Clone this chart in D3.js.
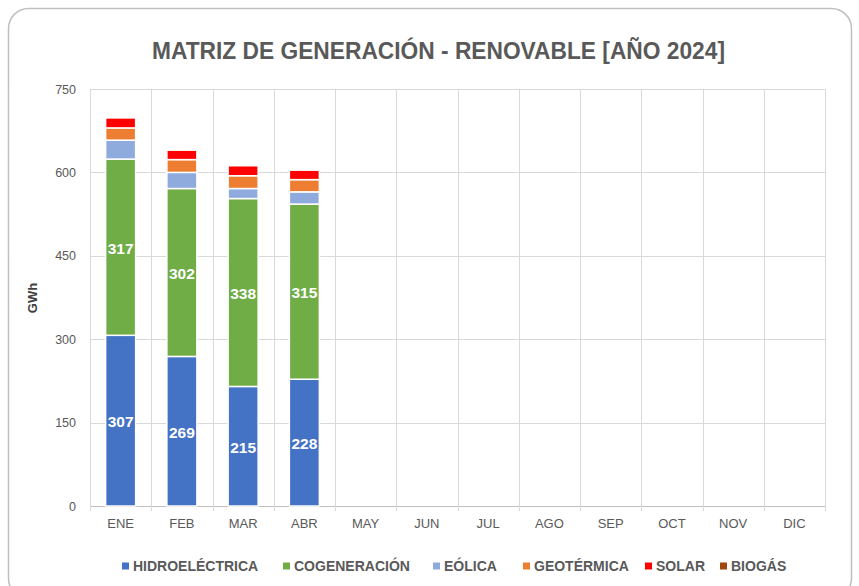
<!DOCTYPE html>
<html><head><meta charset="utf-8">
<script src="https://cdn.jsdelivr.net/npm/d3@7"></script>
<style>body{margin:0;background:#fff;}svg{display:block;font-family:"Liberation Sans",Arial,sans-serif;}</style>
</head><body>
<svg id="c" width="859" height="586"></svg>
<script>
const months = ["ENE","FEB","MAR","ABR","MAY","JUN","JUL","AGO","SEP","OCT","NOV","DIC"];
const seriesNames = ["HIDROELÉCTRICA","COGENERACIÓN","EÓLICA","GEOTÉRMICA","SOLAR","BIOGÁS"];
const seriesColors = ["#4472C4","#70AD47","#8FAADC","#ED7D31","#FF0000","#9E480E"];
const hidro = [307,269,215,228,0,0,0,0,0,0,0,0];
const cogen = [317,302,338,315,0,0,0,0,0,0,0,0];
const eolica = [34,29,18,22,0,0,0,0,0,0,0,0];
const geotermica = [22,23,23,22,0,0,0,0,0,0,0,0];
const solar = [18,17,18,17,0,0,0,0,0,0,0,0];
const biogas = [0,0,0,0,0,0,0,0,0,0,0,0];
const yTicks = [0,150,300,450,600,750];
const labeledSeries = [0,1];

const allSeries = [hidro,cogen,eolica,geotermica,solar,biogas];
const rows = months.map((m,i)=>{const r={mes:m};seriesNames.forEach((s,j)=>r[s]=allSeries[j][i]);return r;});
const stack = d3.stack().keys(seriesNames)(rows);

const svg = d3.select("#c");
svg.append("rect").attr("x",8.5).attr("y",8.5).attr("width",843).attr("height",590)
  .attr("rx",20).attr("fill","#fff").attr("stroke","#bfbfbf").attr("stroke-width",1.5);

const L=90,R=825,T=89,B=506;
const x = d3.scaleBand().domain(months).range([L,R]).paddingInner(0.51).paddingOuter(0.255);
const y = d3.scaleLinear().domain([0,750]).range([B,T]);

// grid
const g = svg.append("g");
g.selectAll(".h").data(yTicks).join("line").attr("x1",L).attr("x2",R)
  .attr("y1",d=>Math.round(y(d))+0.5).attr("y2",d=>Math.round(y(d))+0.5)
  .attr("stroke",d=>d===0?"#bfbfbf":"#d9d9d9").attr("stroke-width",1);
const bounds = d3.range(13).map(i=>L+i*(R-L)/12);
g.selectAll(".v").data(bounds).join("line")
  .attr("x1",d=>Math.round(d)+0.5).attr("x2",d=>Math.round(d)+0.5)
  .attr("y1",T).attr("y2",B+5).attr("stroke","#d9d9d9");

// y axis labels
const yAxis = d3.axisLeft(y).tickValues(yTicks).tickSize(0).tickPadding(0);
const ya = svg.append("g").attr("transform",`translate(${L-14},0)`).call(yAxis);
ya.select(".domain").remove();
ya.selectAll("text").attr("fill","#595959").attr("font-size",12.5).attr("font-family","Liberation Sans, Arial, sans-serif");

// x axis labels
const xAxis = d3.axisBottom(x).tickSize(0).tickPadding(0);
const xa = svg.append("g").attr("transform",`translate(0,${B+13})`).call(xAxis);
xa.select(".domain").remove();
xa.selectAll("text").attr("fill","#595959").attr("font-size",13).attr("font-family","Liberation Sans, Arial, sans-serif");

// bars
const layers = svg.append("g").selectAll("g").data(stack).join("g")
  .attr("fill",(d,i)=>seriesColors[i]);
layers.selectAll("rect").data(d=>d.filter(p=>p[1]-p[0]>0)).join("rect")
  .attr("x",d=>x(d.data.mes)).attr("width",x.bandwidth())
  .attr("y",d=>y(d[1])).attr("height",d=>y(d[0])-y(d[1]))
  .attr("stroke","#fff").attr("stroke-width",1.5);

// data labels
labeledSeries.forEach(si=>{
  svg.append("g").selectAll("text").data(stack[si].filter(p=>p[1]-p[0]>0)).join("text")
    .attr("x",d=>x(d.data.mes)+x.bandwidth()/2)
    .attr("y",d=>(y(d[0])+y(d[1]))/2+1)
    .attr("dy","0.35em").attr("text-anchor","middle")
    .attr("fill","#fff").attr("font-weight","bold").attr("font-size",15.5)
    .attr("font-family","Liberation Sans Narrow, Liberation Sans, Arial, sans-serif")
    .text(d=>d[1]-d[0]);
});

// y title
svg.append("text").attr("transform","translate(37,298) rotate(-90)")
  .attr("text-anchor","middle").attr("fill","#404040").attr("font-size",13)
  .attr("font-weight","bold")
  .text("GWh");

// title
svg.append("text").attr("x",438.5).attr("y",59).attr("text-anchor","middle")
  .attr("fill","#595959").attr("font-weight","bold").attr("font-size",24.5)
  .attr("font-family","Liberation Sans Narrow, Liberation Sans, Arial, sans-serif")
  .attr("textLength",573).attr("lengthAdjust","spacingAndGlyphs")
  .text("MATRIZ DE GENERACIÓN - RENOVABLE [AÑO 2024]");

// legend
const legX = [122,283,433,523,645,720];
const leg = svg.append("g").selectAll("g").data(seriesNames).join("g")
  .attr("transform",(d,i)=>`translate(${legX[i]},566)`);
leg.append("rect").attr("x",0).attr("y",-3.5).attr("width",7).attr("height",7)
  .attr("fill",(d,i)=>seriesColors[i]);
leg.append("text").attr("x",11).attr("y",0).attr("dy","0.36em")
  .attr("fill","#595959").attr("font-weight","bold").attr("font-size",14)
  .text(d=>d);
</script>
</body></html>
